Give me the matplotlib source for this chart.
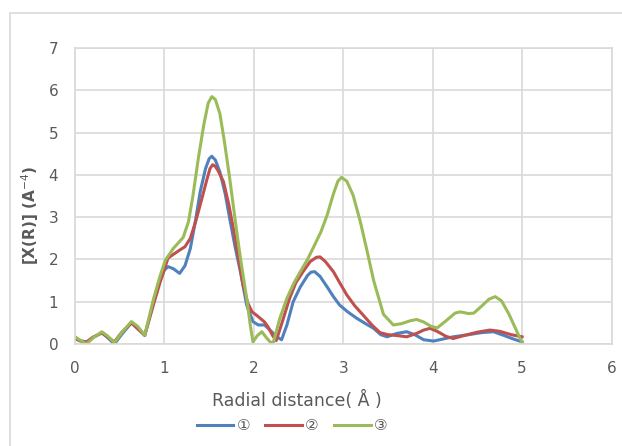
import matplotlib
matplotlib.use("Agg")
import matplotlib.pyplot as plt
from matplotlib.patches import Rectangle

plt.rcParams['font.family'] = ['Liberation Sans Narrow', 'DejaVu Sans', 'Noto Sans CJK SC']

# series
x_blue = [0, 0.05, 0.13, 0.2, 0.3, 0.37, 0.44, 0.52, 0.63, 0.7, 0.78, 0.88, 0.95, 1.0, 1.04, 1.1, 1.17,
          1.23, 1.29, 1.35, 1.4, 1.46, 1.5, 1.53, 1.57, 1.62, 1.68, 1.73, 1.79, 1.85, 1.92, 1.99, 2.05,
          2.12, 2.2, 2.25, 2.31, 2.37, 2.44, 2.52, 2.6, 2.64, 2.68, 2.74, 2.82, 2.89, 2.96, 3.05, 3.15,
          3.25, 3.34, 3.42, 3.49, 3.6, 3.71, 3.8, 3.9, 4.01, 4.12, 4.23, 4.4, 4.55, 4.68, 4.8, 4.9, 5.0]
y_blue = [0.15, 0.08, 0.03, 0.15, 0.27, 0.14, 0.0, 0.22, 0.5, 0.38, 0.2, 1.0, 1.5, 1.75, 1.83, 1.78, 1.67,
          1.85, 2.26, 2.95, 3.6, 4.15, 4.38, 4.44, 4.35, 4.07, 3.55, 2.97, 2.3, 1.71, 0.92, 0.53, 0.45,
          0.45, 0.29, 0.18, 0.1, 0.45, 1.0, 1.35, 1.62, 1.7, 1.71, 1.6, 1.35, 1.12, 0.92, 0.76, 0.61,
          0.48, 0.37, 0.22, 0.17, 0.25, 0.29, 0.22, 0.1, 0.07, 0.12, 0.17, 0.22, 0.27, 0.29, 0.2, 0.12, 0.05]

x_red = [0, 0.05, 0.13, 0.2, 0.3, 0.37, 0.44, 0.52, 0.63, 0.7, 0.78, 0.88, 0.95, 1.04, 1.1, 1.17,
         1.23, 1.29, 1.35, 1.4, 1.47, 1.51, 1.54, 1.57, 1.6, 1.66, 1.72, 1.77, 1.83, 1.88, 1.93, 1.98, 2.03,
         2.07, 2.12, 2.16, 2.21, 2.25, 2.3, 2.4, 2.47, 2.55, 2.63, 2.7, 2.74, 2.8, 2.89, 2.96,
         3.04, 3.13, 3.22, 3.32, 3.41, 3.5, 3.6, 3.71, 3.82, 3.9, 3.97, 4.05, 4.15, 4.23, 4.35,
         4.5, 4.64, 4.75, 4.88, 5.0]
y_red = [0.13, 0.08, 0.05, 0.16, 0.26, 0.16, 0.05, 0.27, 0.5, 0.36, 0.21, 0.95, 1.45, 2.03, 2.12, 2.22,
         2.3, 2.5, 2.9, 3.29, 3.85, 4.15, 4.24, 4.2, 4.1, 3.84, 3.3, 2.74, 2.0, 1.39, 0.98, 0.76, 0.68,
         0.61, 0.52, 0.4, 0.2, 0.08, 0.4, 1.08, 1.45, 1.71, 1.95, 2.05, 2.06, 1.95, 1.71, 1.45,
         1.16, 0.9, 0.69, 0.45, 0.27, 0.22, 0.2, 0.17, 0.25, 0.33, 0.37, 0.3, 0.18, 0.13, 0.2,
         0.28, 0.33, 0.3, 0.22, 0.17]

x_green = [0, 0.05, 0.13, 0.2, 0.3, 0.37, 0.44, 0.52, 0.63, 0.7, 0.78, 0.88, 0.95, 1.01, 1.1, 1.21,
           1.27, 1.32, 1.38, 1.44, 1.49, 1.53, 1.57, 1.62, 1.67, 1.73, 1.79, 1.85, 1.92, 1.96, 1.99,
           2.04, 2.09, 2.14, 2.19, 2.22, 2.29, 2.37, 2.45, 2.52, 2.6, 2.67, 2.75, 2.82, 2.89, 2.94,
           2.98, 3.04, 3.11, 3.19, 3.26, 3.34, 3.45, 3.56, 3.65, 3.75, 3.82, 3.9, 3.98, 4.05, 4.15,
           4.25, 4.31, 4.4, 4.46, 4.55, 4.63, 4.7, 4.77, 4.85, 4.93, 5.0]
y_green = [0.17, 0.1, 0.0, 0.14, 0.29, 0.18, 0.03, 0.26, 0.53, 0.42, 0.21, 1.08, 1.6, 1.98, 2.26, 2.52,
           2.9, 3.52, 4.4, 5.18, 5.7, 5.85, 5.78, 5.45, 4.8, 3.92, 2.95, 2.03, 1.08, 0.45, 0.05,
           0.2, 0.29, 0.15, 0.03, 0.05, 0.6, 1.08, 1.45, 1.71, 2.0, 2.3, 2.65, 3.05, 3.55, 3.85,
           3.94, 3.85, 3.52, 2.9, 2.26, 1.5, 0.7, 0.45, 0.48, 0.55, 0.58, 0.52, 0.42, 0.38, 0.55,
           0.73, 0.76, 0.72, 0.73, 0.9, 1.06, 1.12, 1.02, 0.72, 0.35, 0.03]

labels = ['①', '②', '③']
colors = ['#4F81BD', '#C0504D', '#9BBB59']
x_ticks = [0, 1, 2, 3, 4, 5, 6]
y_ticks = [0, 1, 2, 3, 4, 5, 6, 7]

txt = '#595959'
grid = '#d9d9d9'

fig = plt.figure(figsize=(6.22, 4.46), dpi=100)
fig.patches.append(Rectangle((10 / 622, -0.1), 1.2, 1.1 - 13 / 446, transform=fig.transFigure,
                             fill=False, edgecolor=grid, lw=1.2))
ax = fig.add_axes([75 / 622, 102 / 446, 536.5 / 622, 296 / 446])

series = [(x_blue, y_blue), (x_red, y_red), (x_green, y_green)]
for (xs, ys), c, lab in zip(series, colors, labels):
    ax.plot(xs, ys, color=c, lw=2.2, label=lab, solid_joinstyle='round')

ax.set_xlim(0, 6)
ax.set_ylim(0, 7)
ax.set_xticks(x_ticks)
ax.set_yticks(y_ticks)
ax.grid(True, color=grid, lw=1.2)
ax.set_axisbelow(True)
for s in ax.spines.values():
    s.set_color(grid)
    s.set_linewidth(1.2)
ax.tick_params(length=0, colors=txt, labelsize=11)
ax.tick_params(axis='x', pad=12)
ax.tick_params(axis='y', pad=12)

fig.text(30 / 622, 1 - 215 / 446, '[X(R)] (A$^{-4}$)', rotation=90, ha='center', va='center',
         fontsize=11, fontweight='bold', color=txt)
fig.text(297 / 622, 1 - 400 / 446, 'Radial distance( Å )', ha='center', va='center',
         fontsize=12.5, color=txt)

leg = fig.legend(loc='center', bbox_to_anchor=(292 / 622, 1 - 426 / 446), ncol=3, frameon=False,
                 fontsize=11, handlelength=2.4, handletextpad=0.2, columnspacing=1.0,
                 labelcolor=txt)

fig.savefig('out.png', dpi=100)
